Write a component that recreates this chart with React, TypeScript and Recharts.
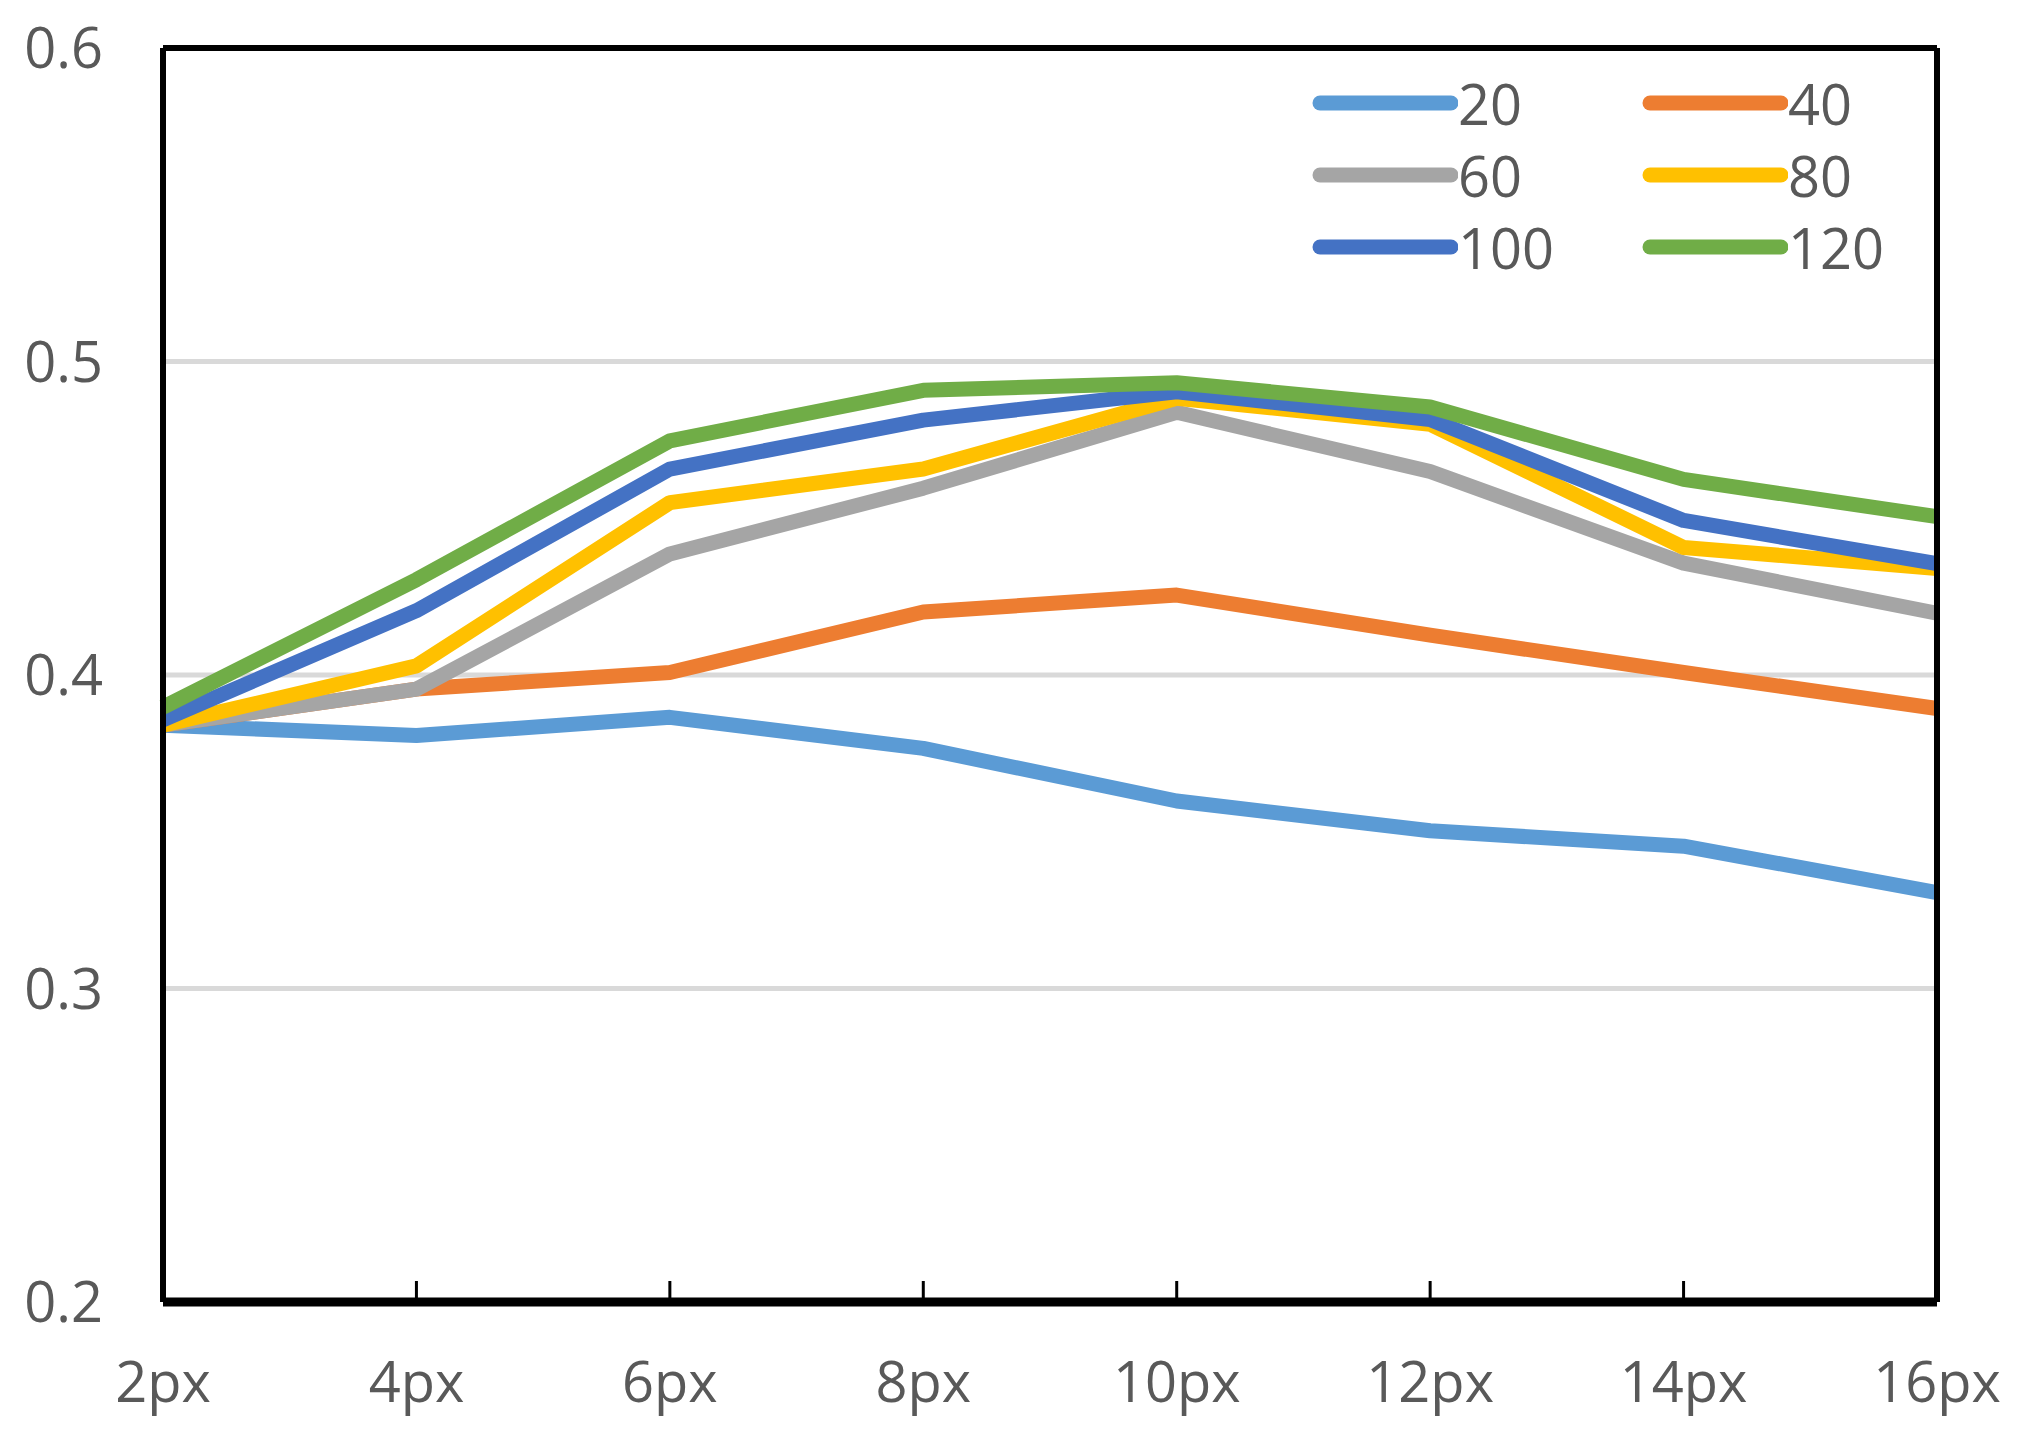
import React from "react";
import { LineChart, Line, XAxis, YAxis, CartesianGrid } from "recharts";

const categories = ["2px", "4px", "6px", "8px", "10px", "12px", "14px", "16px"];
const s20 = [0.384, 0.3807, 0.3865, 0.3766, 0.3598, 0.3503, 0.3454, 0.3306];
const s40 = [0.384, 0.3955, 0.4008, 0.4201, 0.4255, 0.4127, 0.4008, 0.3893];
const s60 = [0.384, 0.3955, 0.4386, 0.4596, 0.4838, 0.4649, 0.4357, 0.4197];
const s80 = [0.384, 0.4029, 0.455, 0.4657, 0.4883, 0.480, 0.4407, 0.434];
const s100 = [0.3857, 0.4205, 0.4657, 0.4813, 0.4903, 0.4815, 0.4493, 0.4355];
const s120 = [0.3897, 0.4304, 0.4747, 0.4908, 0.4932, 0.4855, 0.4624, 0.4505];
const yTicks = [0.2, 0.3, 0.4, 0.5, 0.6];

const seriesNames = ["20", "40", "60", "80", "100", "120"];
const seriesValues = [s20, s40, s60, s80, s100, s120];
const seriesColors = ["#5B9BD5", "#ED7D31", "#A5A5A5", "#FFC000", "#4472C4", "#70AD47"];

const data = categories.map((c, i) => {
  const row: Record<string, string | number> = { cat: c };
  seriesNames.forEach((n, k) => {
    row["s" + n] = seriesValues[k][i];
  });
  return row;
});

const FONT = "'Open Sans', sans-serif";
const TEXT = "#595959";

const XTick = (props: any) => {
  const { x, y, payload, index } = props;
  const inner = index > 0 && index < categories.length - 1;
  return (
    <g>
      {inner && <line x1={x} x2={x} y1={y} y2={y - 21} stroke="#000" strokeWidth={3} />}
      <text x={x} y={y + 100} textAnchor="middle" fontSize={56} fontFamily={FONT} fill={TEXT}>
        {payload.value}
      </text>
    </g>
  );
};

const YTick = (props: any) => {
  const { x, y, payload } = props;
  return (
    <text x={x - 60} y={y + 20} textAnchor="end" fontSize={56} fontFamily={FONT} fill={TEXT}>
      {payload.value.toFixed(1)}
    </text>
  );
};

function LegendBox() {
  return (
    <div
      style={{
        position: "absolute",
        left: 1312,
        top: 67,
        display: "grid",
        gridTemplateColumns: "330px 330px",
        fontFamily: FONT,
        fontSize: 56,
        color: TEXT,
        lineHeight: "72px",
      }}
    >
      {seriesNames.map((n, k) => (
        <div key={n} style={{ display: "flex", alignItems: "center", height: 72 }}>
          <svg width={146} height={20} style={{ display: "block" }}>
            <line x1={8} x2={139} y1={10} y2={10} stroke={seriesColors[k]} strokeWidth={15} strokeLinecap="round" />
          </svg>
          <span>{n}</span>
        </div>
      ))}
    </div>
  );
}

export default function App() {
  return (
    <div style={{ position: "absolute", left: 0, top: 0, width: 2017, height: 1440, background: "#fff" }}>
      <LineChart width={2017} height={1440} data={data} margin={{ top: 47, right: 79, left: 13, bottom: 0 }}>
        <CartesianGrid vertical={false} stroke="#D9D9D9" strokeWidth={5} />
        {seriesNames.map((n, k) => (
          <Line
            key={n}
            dataKey={"s" + n}
            name={n}
            stroke={seriesColors[k]}
            strokeWidth={15}
            strokeLinejoin="round"
            dot={false}
            activeDot={false}
            isAnimationActive={false}
          />
        ))}
        <XAxis
          dataKey="cat"
          height={138}
          padding={{ left: 0, right: 0 }}
          interval={0}
          tickLine={false}
          tickSize={0}
          tickMargin={0}
          axisLine={{ stroke: "#000", strokeWidth: 9 }}
          tick={<XTick />}
        />
        <XAxis xAxisId="top" orientation="top" dataKey="cat" height={1} tick={false} tickLine={false} axisLine={{ stroke: "#000", strokeWidth: 6 }} />
        <YAxis
          domain={[0.2, 0.6]}
          ticks={yTicks}
          width={150}
          tickLine={false}
          tickSize={0}
          tickMargin={0}
          axisLine={{ stroke: "#000", strokeWidth: 6 }}
          tick={<YTick />}
        />
        <YAxis yAxisId="right" orientation="right" domain={[0.2, 0.6]} width={1} tick={false} tickLine={false} axisLine={{ stroke: "#000", strokeWidth: 6 }} />
      </LineChart>
      <LegendBox />
    </div>
  );
}
